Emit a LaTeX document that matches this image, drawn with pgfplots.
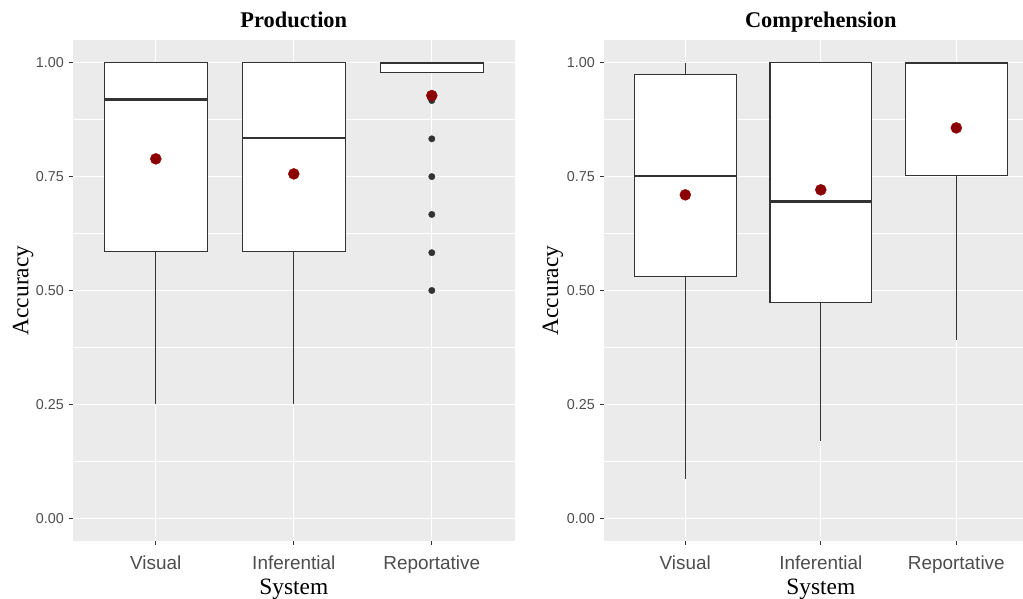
\documentclass[border=0pt]{standalone}
\usepackage{fontspec}
\setmainfont{Liberation Serif}
\newfontfamily\arial{Liberation Sans}
\usepackage{pgfplots}
\pgfplotsset{compat=1.18}
\usepgfplotslibrary{statistics}

\definecolor{panelbg}{HTML}{EBEBEB}
\definecolor{boxline}{HTML}{333333}
\definecolor{ticktext}{HTML}{4D4D4D}
\definecolor{meanred}{HTML}{8B0000}

\pgfplotsset{
  ggpanel/.style={
    scale only axis,
    anchor=south west,
    height=501bp,
    ymin=-0.05, ymax=1.05,
    xmin=0.4, xmax=3.6,
    axis background/.style={fill=panelbg},
    axis line style={draw=none},
    tick align=outside,
    xtick pos=bottom, ytick pos=left,
    major tick length=4bp,
    minor tick length=0pt,
    tick style={boxline, line width=0.8bp},
    xtick={1,2,3},
    xticklabels={Visual,Inferential,Reportative},
    ytick={0,0.25,0.5,0.75,1},
    yticklabels={0.00,0.25,0.50,0.75,1.00},
    minor ytick={0.125,0.375,0.625,0.875},
    grid=both,
    major grid style={white, line width=1.3bp},
    minor grid style={white, line width=0.6bp},
    xticklabel style={font=\arial\fontsize{19}{19}\selectfont, text=ticktext, anchor=base, inner sep=0pt, yshift=-25bp},
    yticklabel style={font=\arial\fontsize{14.4}{14.4}\selectfont, text=ticktext, anchor=east, inner sep=0pt, xshift=-5bp},
    title style={font=\bfseries\fontsize{22.5}{22.5}\selectfont, anchor=base, at={(axis description cs:0.5,1)}, yshift=7bp},
    xlabel style={font=\fontsize{23.5}{23.5}\selectfont, anchor=base, at={(axis description cs:0.5,-0.1058)}},
    ylabel style={font=\fontsize{23.5}{23.5}\selectfont, anchor=center},
    xlabel={System},
    ylabel={Accuracy},
    boxplot/draw direction=y,
    boxplot/box extend=0.75,
    boxplot/whisker extend=0,
    boxplot/every box/.style={draw=boxline, fill=white, line width=1.1bp},
    boxplot/every whisker/.style={draw=boxline, line width=1.0bp},
    boxplot/every median/.style={draw=boxline, line width=2.4bp},
  },
  meanpt/.style={only marks, mark=*, mark size=5.5bp, mark options={fill=meanred, draw=meanred}},
  outlierpt/.style={only marks, mark=*, mark size=3.2bp, mark options={fill=boxline, draw=boxline}},
}

\begin{document}
\begin{tikzpicture}[x=1bp, y=1bp]
\useasboundingbox (0,0) rectangle (1023,599);

% Production
\begin{axis}[ggpanel, at={(73bp,58bp)}, width=441.6bp,
  title={Production},
  ylabel style={at={(axis description cs:-0.113,0.5)}}]
  \addplot[boxplot prepared={draw position=1,
      lower whisker=0.25, lower quartile=0.585, median=0.919,
      upper quartile=1.0, upper whisker=1.0}] coordinates {};
  \addplot[boxplot prepared={draw position=2,
      lower whisker=0.25, lower quartile=0.585, median=0.835,
      upper quartile=1.0, upper whisker=1.0}] coordinates {};
  \addplot[boxplot prepared={draw position=3,
      lower whisker=0.979, lower quartile=0.979, median=1.0,
      upper quartile=1.0, upper whisker=1.0}] coordinates {};
  % outliers of the reportative system
  \addplot[outlierpt] coordinates {
    (3,0.917) (3,0.833) (3,0.750) (3,0.667) (3,0.583) (3,0.500)};
  % group means
  \addplot[meanpt] coordinates {(1,0.789) (2,0.756) (3,0.928)};
\end{axis}

% Comprehension
\begin{axis}[ggpanel, at={(604bp,58bp)}, width=433.6bp,
  title={Comprehension},
  ylabel style={at={(axis description cs:-0.118,0.5)}}]
  \addplot[boxplot prepared={draw position=1,
      lower whisker=0.086, lower quartile=0.530, median=0.752,
      upper quartile=0.974, upper whisker=1.0}] coordinates {};
  \addplot[boxplot prepared={draw position=2,
      lower whisker=0.169, lower quartile=0.473, median=0.695,
      upper quartile=1.0, upper whisker=1.0}] coordinates {};
  \addplot[boxplot prepared={draw position=3,
      lower whisker=0.391, lower quartile=0.752, median=1.0,
      upper quartile=1.0, upper whisker=1.0}] coordinates {};
  % group means
  \addplot[meanpt] coordinates {(1,0.710) (2,0.721) (3,0.857)};
\end{axis}
\end{tikzpicture}
\end{document}
